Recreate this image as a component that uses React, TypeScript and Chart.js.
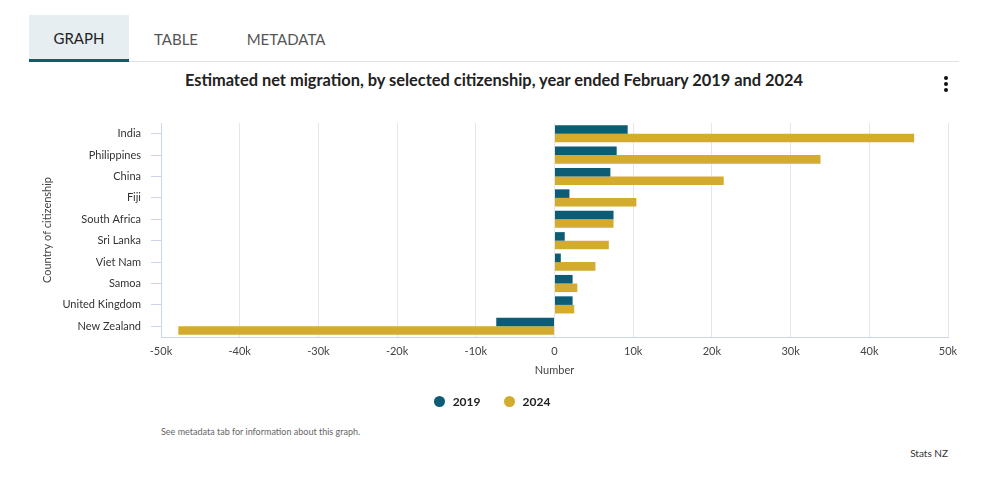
import React, { useEffect, useRef } from "react";
import { Chart, registerables } from "chart.js";

Chart.register(...registerables);

const categories = [
  "India",
  "Philippines",
  "China",
  "Fiji",
  "South Africa",
  "Sri Lanka",
  "Viet Nam",
  "Samoa",
  "United Kingdom",
  "New Zealand",
];
const values2019 = [9300, 7900, 7100, 1900, 7500, 1300, 800, 2300, 2300, -7400];
const values2024 = [45700, 33800, 21500, 10400, 7500, 6900, 5200, 2900, 2500, -47800];
const xTicks = [-50000, -40000, -30000, -20000, -10000, 0, 10000, 20000, 30000, 40000, 50000];

const TEAL = "#0b5c74";
const GOLD = "#d3ab2f";
const FONT = "Lato, 'Open Sans', sans-serif";

export default function App() {
  const canvasRef = useRef<HTMLCanvasElement | null>(null);

  useEffect(() => {
    if (!canvasRef.current) return;
    const chart = new Chart(canvasRef.current, {
      type: "bar",
      data: {
        labels: categories,
        datasets: [
          { label: "2019", data: values2019, backgroundColor: TEAL, barPercentage: 1, categoryPercentage: 0.8 },
          { label: "2024", data: values2024, backgroundColor: GOLD, barPercentage: 1, categoryPercentage: 0.8 },
        ],
      },
      options: {
        indexAxis: "y",
        animation: false,
        responsive: true,
        maintainAspectRatio: false,
        layout: { padding: { left: 37, right: 42, top: 58, bottom: 43 } },
        plugins: {
          legend: { display: false },
          tooltip: { enabled: false },
          title: { display: false },
        },
        scales: {
          x: {
            type: "linear",
            min: -50000,
            max: 50000,
            afterBuildTicks: (scale: any) => {
              scale.ticks = xTicks.map((v) => ({ value: v }));
            },
            afterFit: (scale: any) => {
              scale.height = 45;
            },
            ticks: {
              padding: 8,
              color: "#444",
              font: { family: FONT, size: 11 },
              callback: (v: any) => (v === 0 ? "0" : v / 1000 + "k"),
            },
            grid: { color: "#e6e6e6", drawTicks: false },
            border: { color: "#ccd6eb" },
            title: {
              display: true,
              text: "Number",
              color: "#444",
              font: { family: FONT, size: 11 },
              padding: { top: 4, bottom: 5 },
            },
          },
          y: {
            afterFit: (scale: any) => {
              scale.width = 124;
            },
            ticks: {
              padding: 10,
              color: "#333",
              font: { family: FONT, size: 11 },
            },
            grid: {
              offset: false,
              drawOnChartArea: false,
              drawTicks: true,
              tickLength: 10,
              color: "#ccd6eb",
            },
            border: { color: "#ccd6eb" },
            title: {
              display: true,
              text: "Country of citizenship",
              color: "#444",
              font: { family: FONT, size: 11 },
              padding: { top: 4, bottom: 4 },
            },
          },
        },
      },
    });
    return () => chart.destroy();
  }, []);

  const tab = (label: string, left: number, width: number, active: boolean) => (
    <div
      style={{
        position: "absolute",
        left,
        top: 15,
        width,
        height: 47,
        boxSizing: "border-box",
        background: active ? "#e6eef1" : "transparent",
        borderBottom: active ? `3px solid ${TEAL}` : "none",
        display: "flex",
        alignItems: "center",
        justifyContent: "center",
        fontSize: 15,
        color: active ? "#222" : "#555",
        paddingTop: active ? 2 : 0,
      }}
    >
      {label}
    </div>
  );

  return (
    <div
      style={{
        position: "absolute",
        left: 0,
        top: 0,
        width: 990,
        height: 486,
        background: "#fff",
        fontFamily: FONT,
        overflow: "hidden",
      }}
    >
      <div style={{ position: "absolute", left: 29, top: 61, width: 930, height: 1, background: "#dde3e6" }} />
      {tab("GRAPH", 29, 100, true)}
      {tab("TABLE", 136, 80, false)}
      {tab("METADATA", 236, 100, false)}
      <div
        style={{
          position: "absolute",
          left: 0,
          width: 990,
          top: 70,
          textAlign: "center",
          fontWeight: 700,
          fontSize: 16.4,
          color: "#222",
          whiteSpace: "nowrap",
        }}
      >
        <span style={{ position: "relative", left: -1 }}>
          Estimated net migration, by selected citizenship, year ended February 2019 and 2024
        </span>
      </div>
      {[78, 84, 90].map((y) => (
        <div
          key={y}
          style={{ position: "absolute", left: 944, top: y - 2, width: 4, height: 4, borderRadius: 2, background: "#111" }}
        />
      ))}
      <div style={{ position: "absolute", left: 0, top: 65, width: 990, height: 360 }}>
        <canvas ref={canvasRef} />
      </div>
      <div
        style={{
          position: "absolute",
          left: 0,
          width: 990,
          top: 394,
          display: "flex",
          justifyContent: "center",
          alignItems: "center",
          fontSize: 12,
          fontWeight: 700,
          color: "#222",
        }}
      >
        <div style={{ display: "flex", alignItems: "center", marginLeft: -6 }}>
          <span style={{ width: 11, height: 11, borderRadius: 6, background: TEAL, marginRight: 8 }} />
          <span>2019</span>
          <span style={{ width: 11, height: 11, borderRadius: 6, background: GOLD, marginLeft: 23, marginRight: 8 }} />
          <span>2024</span>
        </div>
      </div>
      <div style={{ position: "absolute", left: 161, top: 426, fontSize: 9, color: "#666" }}>
        See metadata tab for information about this graph.
      </div>
      <div style={{ position: "absolute", right: 42, top: 447, fontSize: 10, color: "#333" }}>Stats NZ</div>
    </div>
  );
}
